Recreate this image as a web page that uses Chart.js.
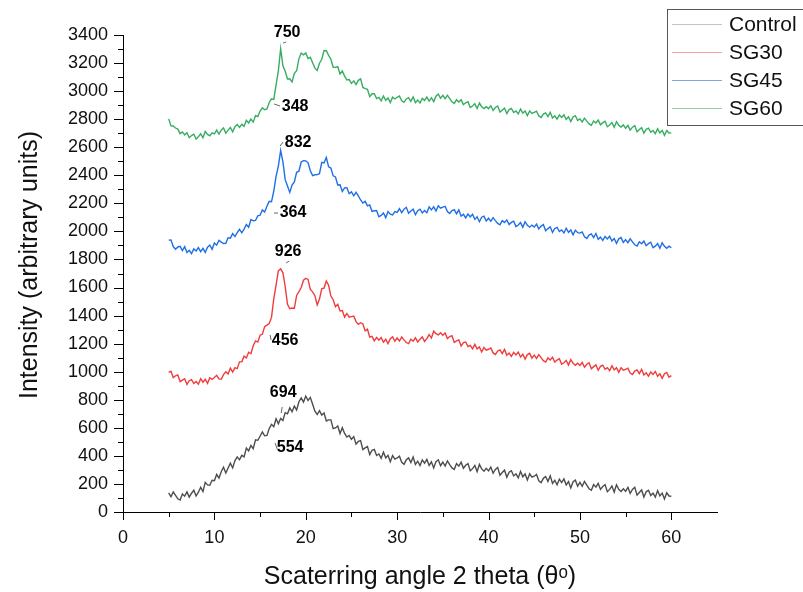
<!DOCTYPE html>
<html lang="en">
<head>
<meta charset="UTF-8">
<title>XRD patterns</title>
<script src="https://cdn.jsdelivr.net/npm/chart.js@4.4.1/dist/chart.umd.min.js"></script>
<style>
  body { margin: 0; background: #fff; }
</style>
</head>
<body>
<canvas id="xrdChart" width="803" height="592"></canvas>
<script>
// 2θ sampling: 5° to 60° every 0.25°
const angleStart = 5;
const angleStep = 0.25;

const seriesNames = ['Control', 'SG30', 'SG45', 'SG60'];

const control = [
  136, 108, 143, 118, 94, 85, 128, 113, 143, 106, 134, 155, 114, 141, 176, 145, 211, 193, 191, 226,
  223, 268, 242, 287, 319, 278, 314, 348, 314, 366, 393, 372, 404, 393, 456, 436, 474, 451, 515, 511,
  540, 570, 543, 546, 595, 625, 608, 665, 629, 667, 652, 708, 700, 742, 715, 755, 727, 786, 813, 784,
  826, 795, 817, 768, 719, 695, 722, 691, 705, 649, 657, 657, 594, 599, 613, 559, 601, 560, 534, 545,
  518, 537, 484, 503, 509, 445, 457, 467, 409, 440, 446, 403, 414, 383, 426, 386, 404, 359, 402, 377,
  385, 398, 354, 340, 372, 386, 352, 392, 339, 362, 331, 371, 348, 375, 332, 358, 314, 359, 372, 330,
  356, 328, 364, 338, 314, 304, 345, 327, 355, 312, 333, 345, 294, 309, 332, 288, 339, 307, 291, 311,
  293, 320, 277, 304, 318, 262, 281, 298, 248, 284, 294, 257, 272, 243, 289, 251, 271, 228, 272, 248,
  255, 268, 223, 209, 240, 253, 218, 258, 204, 226, 194, 234, 210, 236, 192, 217, 172, 216, 227, 184,
  211, 183, 218, 192, 166, 155, 195, 177, 204, 161, 182, 195, 145, 161, 185, 142, 194, 162, 146, 166,
  148, 176, 133, 161, 176, 120, 139, 157, 107, 144, 155, 118, 134, 106, 152, 114, 135, 92, 137, 114,
  112
];

const sg30 = [
  995, 1003, 958, 971, 977, 929, 940, 950, 909, 936, 944, 916, 930, 911, 950, 925, 946, 917, 957, 945,
  958, 974, 949, 946, 979, 999, 984, 1026, 997, 1029, 1022, 1070, 1071, 1111, 1098, 1139, 1128, 1185, 1219, 1211,
  1260, 1267, 1321, 1332, 1344, 1387, 1519, 1617, 1719, 1733, 1705, 1607, 1480, 1449, 1454, 1452, 1544, 1571, 1600, 1652,
  1665, 1658, 1586, 1569, 1542, 1476, 1518, 1593, 1596, 1646, 1616, 1539, 1513, 1463, 1480, 1433, 1436, 1389, 1415, 1389,
  1393, 1397, 1357, 1338, 1349, 1340, 1291, 1303, 1246, 1252, 1220, 1244, 1224, 1243, 1210, 1231, 1200, 1236, 1248, 1217,
  1240, 1219, 1247, 1227, 1208, 1200, 1231, 1218, 1241, 1212, 1232, 1248, 1216, 1236, 1264, 1240, 1289, 1271, 1262, 1277,
  1260, 1276, 1236, 1251, 1257, 1209, 1219, 1227, 1184, 1208, 1212, 1179, 1188, 1163, 1195, 1163, 1177, 1141, 1173, 1154,
  1160, 1169, 1134, 1123, 1147, 1155, 1129, 1159, 1117, 1133, 1109, 1138, 1120, 1140, 1105, 1124, 1090, 1122, 1131, 1097,
  1118, 1095, 1121, 1100, 1079, 1069, 1098, 1084, 1103, 1069, 1083, 1093, 1053, 1064, 1081, 1047, 1086, 1060, 1046, 1061,
  1045, 1066, 1032, 1053, 1064, 1021, 1036, 1049, 1010, 1038, 1046, 1017, 1029, 1007, 1042, 1013, 1029, 995, 1029, 1011,
  1016, 1025, 991, 980, 1004, 1013, 987, 1017, 976, 992, 968, 998, 981, 1001, 967, 986, 953, 986, 995, 961,
  972
];

const sg45 = [
  1938, 1939, 1892, 1873, 1889, 1893, 1863, 1891, 1849, 1865, 1842, 1875, 1861, 1885, 1856, 1879, 1850, 1888, 1902, 1873,
  1917, 1902, 1937, 1924, 1914, 1915, 1955, 1952, 1984, 1963, 1991, 2015, 1990, 2016, 2049, 2030, 2084, 2075, 2078, 2111,
  2115, 2153, 2138, 2179, 2214, 2211, 2288, 2393, 2466, 2576, 2496, 2369, 2323, 2278, 2330, 2353, 2421, 2429, 2495, 2504,
  2503, 2489, 2432, 2398, 2404, 2405, 2411, 2493, 2489, 2527, 2460, 2452, 2396, 2388, 2331, 2332, 2285, 2310, 2311, 2269,
  2282, 2254, 2279, 2254, 2224, 2202, 2214, 2182, 2189, 2143, 2147, 2149, 2105, 2114, 2131, 2098, 2142, 2123, 2118, 2141,
  2135, 2163, 2134, 2159, 2172, 2130, 2145, 2158, 2119, 2148, 2158, 2132, 2149, 2133, 2175, 2153, 2175, 2146, 2183, 2166,
  2173, 2179, 2142, 2128, 2149, 2155, 2126, 2153, 2109, 2122, 2096, 2124, 2104, 2122, 2086, 2104, 2069, 2101, 2109, 2074,
  2094, 2072, 2098, 2077, 2057, 2047, 2077, 2063, 2082, 2049, 2064, 2073, 2034, 2046, 2063, 2029, 2069, 2043, 2030, 2045,
  2031, 2052, 2017, 2038, 2049, 2005, 2020, 2033, 1993, 2021, 2029, 1999, 2011, 1989, 2023, 1994, 2010, 1975, 2009, 1991,
  1988, 1996, 1962, 1950, 1974, 1982, 1956, 1985, 1944, 1959, 1935, 1964, 1946, 1965, 1931, 1949, 1915, 1947, 1956, 1921,
  1942, 1920, 1947, 1925, 1905, 1896, 1926, 1912, 1931, 1898, 1913, 1923, 1884, 1895, 1913, 1879, 1919, 1894, 1880, 1895,
  1884
];

const sg60 = [
  2802, 2752, 2751, 2737, 2729, 2697, 2709, 2687, 2704, 2668, 2683, 2693, 2658, 2674, 2696, 2667, 2712, 2691, 2682, 2702,
  2695, 2722, 2694, 2721, 2738, 2701, 2722, 2741, 2710, 2746, 2762, 2741, 2763, 2749, 2792, 2773, 2801, 2779, 2825, 2819,
  2858, 2881, 2867, 2873, 2919, 2945, 2941, 3043, 3144, 3302, 3180, 3142, 3086, 3088, 3066, 3127, 3145, 3230, 3271, 3259,
  3272, 3232, 3241, 3202, 3164, 3147, 3199, 3227, 3289, 3288, 3255, 3227, 3170, 3169, 3174, 3122, 3144, 3106, 3080, 3082,
  3055, 3073, 3046, 3077, 3087, 3026, 3018, 3013, 2961, 2981, 2981, 2947, 2955, 2931, 2965, 2935, 2951, 2919, 2957, 2944,
  2956, 2965, 2931, 2920, 2944, 2953, 2927, 2958, 2918, 2936, 2915, 2948, 2934, 2958, 2929, 2953, 2925, 2964, 2979, 2949,
  2970, 2946, 2971, 2947, 2924, 2912, 2939, 2922, 2939, 2904, 2917, 2925, 2884, 2894, 2911, 2876, 2915, 2889, 2875, 2889,
  2875, 2896, 2862, 2883, 2894, 2851, 2866, 2879, 2840, 2868, 2876, 2847, 2859, 2837, 2872, 2843, 2859, 2825, 2859, 2841,
  2848, 2857, 2823, 2812, 2836, 2845, 2819, 2849, 2808, 2824, 2800, 2830, 2812, 2832, 2798, 2817, 2783, 2816, 2825, 2791,
  2802, 2780, 2807, 2786, 2766, 2757, 2787, 2773, 2793, 2760, 2775, 2785, 2746, 2758, 2776, 2742, 2782, 2757, 2744, 2759,
  2735, 2756, 2722, 2743, 2754, 2711, 2726, 2739, 2700, 2728, 2736, 2707, 2719, 2697, 2732, 2703, 2719, 2685, 2719, 2701,
  2702
];

const lineColors = ['#4d4d4d', '#f03c3c', '#1f6fe5', '#37ad62'];
const legendColors = ['#c4c4c4', '#f4a3a3', '#7fa7e6', '#8fd1a5'];

// peak size annotations
const peakLabels = ['750', '348', '832', '364', '926', '456', '694', '554'];
const peakLabelAngle = [17.96, 18.83, 19.16, 18.61, 18.07, 17.74, 17.53, 18.29];
const peakLabelIntensity = [3414, 2887, 2630, 2131, 1853, 1219, 848, 456];
// little leader dashes next to each label, pixel offsets from label centre
const leaderOffsets = [
  [-4, 10, -1, 9], [-21, -3, -15, -1], [-18, 3, -15, -1], [-19, 0, -15, 0],
  [-2, 11, 1, 9], [-15, -6, -14, -1], [-2, 20, -1, 14], [-15, -5, -13, 1]
];

const FONT = 'Arial, "Liberation Sans", sans-serif';
const yTitle = 'Intensity (arbitrary units)';

function toPoints(values) {
  return values.map((v, i) => ({ x: angleStart + i * angleStep, y: v }));
}

const allSeries = [control, sg30, sg45, sg60];

const axisTicks = {
  id: 'axisTicks',
  afterDraw(chart) {
    const ctx = chart.ctx;
    const x = chart.scales.x, y = chart.scales.y;
    const area = chart.chartArea;
    ctx.save();
    ctx.strokeStyle = '#000';
    ctx.lineWidth = 1;
    ctx.beginPath();
    for (let v = 0; v <= 60; v += 5) {
      const px = Math.round(x.getPixelForValue(v)) + 0.5;
      const len = v % 10 === 0 ? 8 : 5;
      ctx.moveTo(px, area.bottom);
      ctx.lineTo(px, area.bottom + len);
    }
    for (let v = 0; v <= 3400; v += 100) {
      const py = Math.round(y.getPixelForValue(v)) + 0.5;
      const len = v % 200 === 0 ? 9 : 5;
      ctx.moveTo(area.left, py);
      ctx.lineTo(area.left - len, py);
    }
    ctx.stroke();
    // rotated y axis title, sits a little above the plot centre
    ctx.translate(30, 265);
    ctx.rotate(-Math.PI / 2);
    ctx.font = '25px ' + FONT;
    ctx.fillStyle = '#111';
    ctx.textAlign = 'center';
    ctx.textBaseline = 'middle';
    ctx.fillText(yTitle, 0, 0);
    ctx.restore();
  }
};

const peakText = {
  id: 'peakText',
  afterDatasetsDraw(chart) {
    const ctx = chart.ctx;
    const x = chart.scales.x, y = chart.scales.y;
    ctx.save();
    ctx.font = 'bold 16px ' + FONT;
    ctx.fillStyle = '#000';
    ctx.textAlign = 'center';
    ctx.textBaseline = 'middle';
    ctx.strokeStyle = '#666';
    ctx.lineWidth = 1;
    peakLabels.forEach((t, i) => {
      const cx = x.getPixelForValue(peakLabelAngle[i]);
      const cy = y.getPixelForValue(peakLabelIntensity[i]);
      ctx.fillText(t, cx, cy);
      const o = leaderOffsets[i];
      ctx.beginPath();
      ctx.moveTo(cx + o[0], cy + o[1]);
      ctx.lineTo(cx + o[2], cy + o[3]);
      ctx.stroke();
    });
    ctx.restore();
  }
};

const boxLegend = {
  id: 'boxLegend',
  afterDraw(chart) {
    const ctx = chart.ctx;
    ctx.save();
    ctx.fillStyle = '#fff';
    ctx.fillRect(667.5, 9.5, 150, 116);
    ctx.strokeStyle = '#555';
    ctx.lineWidth = 1;
    ctx.strokeRect(667.5, 9.5, 150, 116);
    ctx.font = '21px ' + FONT;
    ctx.textBaseline = 'middle';
    ctx.textAlign = 'left';
    seriesNames.forEach((name, i) => {
      const ry = 24 + i * 28;
      ctx.strokeStyle = legendColors[i];
      ctx.beginPath();
      ctx.moveTo(672, ry + 0.5);
      ctx.lineTo(722, ry + 0.5);
      ctx.stroke();
      ctx.fillStyle = '#111';
      ctx.fillText(name, 729, ry + 1);
    });
    ctx.restore();
  }
};

new Chart(document.getElementById('xrdChart'), {
  type: 'line',
  data: {
    datasets: allSeries.map((vals, i) => ({
      label: seriesNames[i],
      data: toPoints(vals),
      borderColor: lineColors[i],
      borderWidth: 1.4,
      pointRadius: 0,
      fill: false,
      tension: 0
    }))
  },
  options: {
    responsive: false,
    animation: false,
    layout: { padding: { top: 35, right: 86, left: 0, bottom: 0 } },
    plugins: {
      legend: { display: false },
      tooltip: { enabled: false }
    },
    scales: {
      x: {
        type: 'linear',
        min: 0,
        max: 65,
        afterFit(scale) { scale.height = 80; },
        afterBuildTicks(scale) {
          scale.ticks = [0, 10, 20, 30, 40, 50, 60].map(v => ({ value: v }));
        },
        ticks: {
          padding: 15,
          color: '#111',
          font: { family: FONT, size: 18 },
          maxRotation: 0,
          callback: v => String(v)
        },
        grid: { display: false, drawTicks: false },
        border: { display: true, color: '#000', width: 1 },
        title: {
          display: true,
          text: 'Scaterring angle 2 theta (θᵒ)',
          color: '#111',
          font: { family: FONT, size: 25 },
          padding: { top: 0, bottom: 0 }
        }
      },
      y: {
        min: 0,
        max: 3400,
        afterFit(scale) { scale.width = 123; },
        afterBuildTicks(scale) {
          const t = [];
          for (let v = 0; v <= 3400; v += 200) t.push({ value: v });
          scale.ticks = t;
        },
        ticks: {
          padding: 15,
          color: '#111',
          font: { family: FONT, size: 18 },
          callback: v => String(v)
        },
        grid: { display: false, drawTicks: false },
        border: { display: true, color: '#000', width: 1 },
        title: { display: false }
      }
    }
  },
  plugins: [axisTicks, peakText, boxLegend]
});
</script>
</body>
</html>
